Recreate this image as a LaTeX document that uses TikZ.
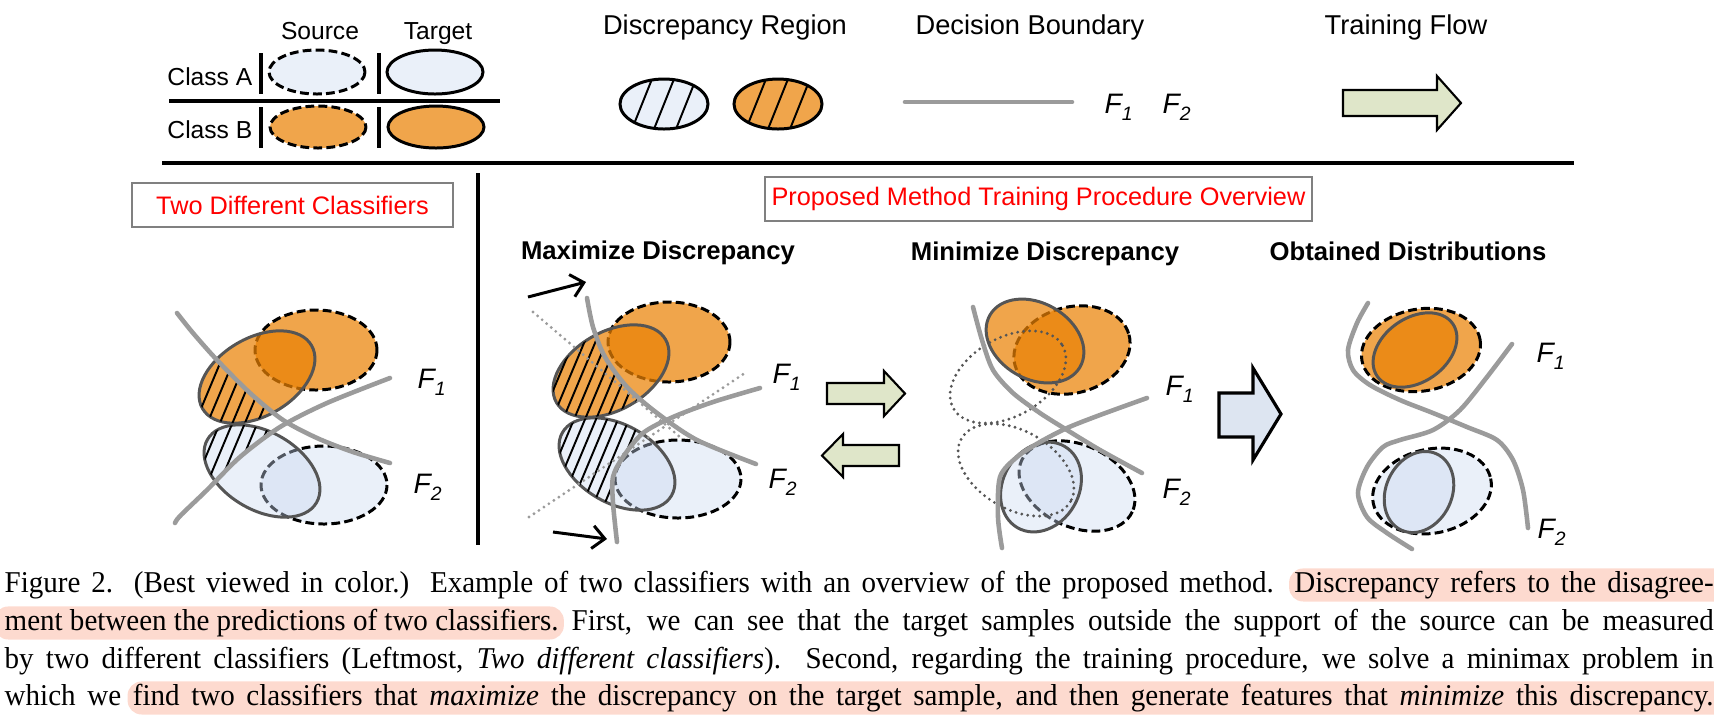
\documentclass[tikz,border=0pt]{standalone}
\usepackage{fontspec}
\setmainfont{Liberation Sans}
\newfontfamily\capfont[FakeStretch=0.96]{Liberation Serif}
\usetikzlibrary{arrows.meta}

\definecolor{orlight}{RGB}{240,165,75}
\definecolor{orsolid}{RGB}{234,130,5}
\definecolor{bllight}{RGB}{234,240,249}
\definecolor{blsolid}{RGB}{202,217,240}
\definecolor{bndgray}{RGB}{155,155,155}
\definecolor{rimgray}{RGB}{85,85,85}
\definecolor{flowgreen}{RGB}{223,230,201}
\definecolor{flowblue}{RGB}{221,229,241}
\definecolor{hilite}{RGB}{253,218,207}

\tikzset{
  srcell/.style={draw=black, line width=0.85pt, dash pattern=on 2.5pt off 1.2pt},
  tgtell/.style={draw=rimgray, line width=0.85pt},
  orsrc/.style={srcell, fill=orlight},
  blsrc/.style={srcell, fill=bllight},
  ortgt/.style={tgtell, fill=orsolid, fill opacity=0.72},
  bltgt/.style={tgtell, fill=blsolid, fill opacity=0.4},
  bound/.style={draw=bndgray, line width=1.3pt, line cap=round},
  olddots/.style={line width=0.9pt, line cap=round, dash pattern=on 0pt off 1.7pt},
  hatch/.style={draw=black, line width=0.55pt},
  legtext/.style={inner sep=0pt, anchor=base, font=\fontsize{7}{8}\selectfont},
  toptext/.style={inner sep=0pt, anchor=base, font=\fontsize{7.75}{9}\selectfont},
  paneltitle/.style={inner sep=0pt, anchor=base, font=\fontsize{7.3}{9}\selectfont\bfseries},
  redbox/.style={draw=gray, line width=0.45pt, text=red, inner sep=0pt,
    minimum height=0.44cm, font=\fontsize{7.2}{8.5}\selectfont},
  flab/.style={inner sep=0pt, anchor=base west, font=\fontsize{8}{9}\selectfont\itshape},
  blockarrow/.style={draw=black, line width=0.6pt, line join=miter},
  nudge/.style={draw=black, line width=0.85pt, -{Straight Barb[length=3.5pt, width=6.5pt]}},
  capline/.style={inner sep=0pt, anchor=base west, font=\capfont\fontsize{8.6}{10.5}\selectfont},
}
\newcommand{\Fsub}[1]{F\raisebox{-2pt}{\fontsize{5.5}{6}\selectfont #1}}
% highlight from here to the end of the line
\newcommand{\hlfrom}{\tikz[overlay]\fill[hilite, rounded corners=4pt] (-1.5pt,-2.7pt) rectangle (20cm,6.7pt);}
% highlight a piece that starts the line
\newsavebox{\hlsave}
\newlength{\hlwidth}
\newcommand{\hlhead}[1]{\sbox{\hlsave}{#1}\setlength{\hlwidth}{\wd\hlsave}%
  \tikz[overlay]\fill[hilite, rounded corners=4pt] (-3pt,-2.7pt) rectangle (\hlwidth+1.5pt,6.7pt);\usebox{\hlsave}}

\begin{document}
\begin{tikzpicture}[x=0.01cm, y=-0.01cm]
\useasboundingbox (0,0) rectangle (1714,714);

% legend
\node[legtext] (srcL) at (320,39) {Source};
\node[legtext] (tgtL) at (438,39) {Target};
\node[legtext, anchor=base east] (clA) at (253,85) {Class A};
\node[legtext, anchor=base east] (clB) at (253,138) {Class B};
\filldraw[blsrc] (317,72) ellipse (48 and 22);
\filldraw[bltgt, draw=black] (435,72) ellipse (48 and 22);
\filldraw[orsrc] (318,127) ellipse (48 and 21);
\filldraw[ortgt, draw=black] (436,127) ellipse (48 and 21);
\draw[line width=1.1pt] (261,53) -- (261,94) (379,53) -- (379,94) (261,107) -- (261,148) (379,107) -- (379,148);
\draw[line width=1pt] (169,101) -- (500,101);

\node[toptext] (discL) at (725,34) {Discrepancy Region};
\fill[bllight] (664,104) ellipse (44 and 25);
\fill[orlight] (778,104) ellipse (44 and 25);
\begin{scope}
  \clip (664,104) ellipse (44 and 25);
  \foreach \c in {642,664,686} \draw[hatch] (\c-16,144) -- (\c+16,64);
\end{scope}
\begin{scope}
  \clip (778,104) ellipse (44 and 25);
  \foreach \c in {756,778,800} \draw[hatch] (\c-16,144) -- (\c+16,64);
\end{scope}
\draw[line width=0.85pt] (664,104) ellipse (44 and 25) (778,104) ellipse (44 and 25);

\node[toptext] (decL) at (1030,34) {Decision Boundary};
\draw[bound] (905,102) -- (1072,102);
\node[flab] (legF1) at (1104,113) {\Fsub{1}};
\node[flab] (legF2) at (1162,113) {\Fsub{2}};

\node[toptext] (flowL) at (1406,34) {Training Flow};
\filldraw[blockarrow, fill=flowgreen] (1343,90) -- (1437,90) -- (1437,76) -- (1461,103) -- (1437,130) -- (1437,116) -- (1343,116) -- cycle;

\draw[line width=1.1pt] (162,163) -- (1574,163);
\draw[line width=1pt] (478,173) -- (478,545);

\node[redbox, minimum width=3.21cm] (twoBox) at (292.5,205) {Two Different Classifiers};
\node[redbox, minimum width=5.47cm] (propBox) at (1038.5,199) {Proposed Method Training Procedure Overview};
\node[paneltitle] (maxT) at (658,259) {Maximize Discrepancy};
\node[paneltitle] (minT) at (1045,260) {Minimize Discrepancy};
\node[paneltitle] (objT) at (1408,260) {Obtained Distributions};

% two classifiers
\def\FoneA{plot[smooth] coordinates {(177,313) (193,333) (217,360) (250,393) (283,420) (317,438) (353,452) (390,463)}}
\def\FtwoA{plot[smooth] coordinates {(175,523) (180,516) (207,490) (240,457) (280,427) (327,403) (390,378)}}
\filldraw[orsrc] (316,350) ellipse (61 and 40);
\filldraw[blsrc] (324,485) ellipse (63 and 39);
\filldraw[ortgt, shift={(257,377)}, rotate=30] (0,0) ellipse (63 and 39);
\filldraw[bltgt, shift={(262,471)}, rotate=-30] (0,0) ellipse (63 and 39);
\begin{scope}
  \clip \FoneA -- (390,600) -- (100,600) -- (100,313) -- cycle;
  \clip \FtwoA -- (390,250) -- (100,250) -- (100,523) -- cycle;
  \begin{scope}
    \clip[shift={(257,377)}, rotate=30] (0,0) ellipse (63 and 39);
    \foreach \k in {0,...,16} \draw[hatch] (100+12.5*\k,560) -- ++(130,-310);
  \end{scope}
  \begin{scope}
    \clip[shift={(262,471)}, rotate=-30] (0,0) ellipse (63 and 39);
    \foreach \k in {0,...,16} \draw[hatch] (100+12.5*\k,560) -- ++(130,-310);
  \end{scope}
\end{scope}
\draw[bound] \FoneA;
\draw[bound] \FtwoA;
\node[flab] (F1a) at (417,388) {\Fsub{1}};
\node[flab] (F2a) at (413,493) {\Fsub{2}};

% maximize
\def\FoneB{plot[smooth] coordinates {(587,298) (593,327) (605,357) (627,387) (657,413) (697,440) (756,464)}}
\def\FtwoB{plot[smooth] coordinates {(617,542) (613,503) (613,477) (623,457) (643,433) (673,417) (713,402) (760,388)}}
\filldraw[orsrc] (669,342) ellipse (61 and 40);
\filldraw[blsrc] (678,479) ellipse (63 and 39);
\filldraw[ortgt, shift={(611,371)}, rotate=30] (0,0) ellipse (63 and 39);
\filldraw[bltgt, shift={(617,464)}, rotate=-30] (0,0) ellipse (63 and 39);
\begin{scope}
  \clip \FoneB -- (756,600) -- (450,600) -- (450,298) -- cycle;
  \clip \FtwoB -- (760,250) -- (450,250) -- (450,542) -- cycle;
  \begin{scope}
    \clip[shift={(611,371)}, rotate=30] (0,0) ellipse (63 and 39);
    \foreach \k in {0,...,20} \draw[hatch] (460+11*\k,560) -- ++(130,-310);
  \end{scope}
  \begin{scope}
    \clip[shift={(617,464)}, rotate=-30] (0,0) ellipse (63 and 39);
    \foreach \k in {0,...,20} \draw[hatch] (460+11*\k,560) -- ++(130,-310);
  \end{scope}
\end{scope}
\draw[olddots, draw=bndgray] (533,312) -- (680,437);
\draw[olddots, draw=bndgray] (529,517) -- (745,373);
\draw[bound] \FoneB;
\draw[bound] \FtwoB;
\coordinate (pushA) at (528,297);
\coordinate (pushB) at (586,282);
\coordinate (pushC) at (553,532);
\coordinate (pushD) at (607,539);
\draw[nudge] (pushA) -- (pushB);
\draw[nudge] (pushC) -- (pushD);
\node[flab] (F1b) at (772,383) {\Fsub{1}};
\node[flab] (F2b) at (768,488) {\Fsub{2}};

\filldraw[blockarrow, fill=flowgreen] (827,383) -- (884,383) -- (884,371) -- (905,393.5) -- (884,416) -- (884,404) -- (827,404) -- cycle;
\filldraw[blockarrow, fill=flowgreen] (899,445) -- (843,445) -- (843,434) -- (822,455.5) -- (843,477) -- (843,466) -- (899,466) -- cycle;

% minimize
\def\FoneC{plot[smooth] coordinates {(973,307) (982,340) (993,370) (1013,393) (1040,413) (1067,430) (1100,450) (1142,473)}}
\def\FtwoC{plot[smooth] coordinates {(1002,548) (998,517) (1000,477) (1017,457) (1040,442) (1067,428) (1100,415) (1147,398)}}
\filldraw[orsrc, shift={(1072,350)}, rotate=15] (0,0) ellipse (59 and 43);
\filldraw[blsrc, shift={(1077,486)}, rotate=-25] (0,0) ellipse (61 and 41);
\filldraw[ortgt, shift={(1035,341)}, rotate=-30] (0,0) ellipse (52 and 38);
\filldraw[bltgt, shift={(1041,487)}, rotate=60] (0,0) ellipse (47 and 38);
\draw[olddots, draw=rimgray, shift={(1008,377)}, rotate=30] (0,0) ellipse (63 and 39);
\draw[olddots, draw=rimgray, shift={(1016,470)}, rotate=-30] (0,0) ellipse (63 and 39);
\draw[bound] \FoneC;
\draw[bound] \FtwoC;
\node[flab] (F1c) at (1165,395) {\Fsub{1}};
\node[flab] (F2c) at (1162,498) {\Fsub{2}};

\filldraw[blockarrow, line width=0.9pt, fill=flowblue] (1219,393) -- (1253,393) -- (1253,368) -- (1281,414) -- (1253,460) -- (1253,437) -- (1219,437) -- cycle;

% obtained
\def\FoneD{plot[smooth] coordinates {(1368,303) (1357,323) (1348,350) (1353,370) (1370,385) (1400,400) (1433,413) (1467,427) (1497,440) (1513,460) (1523,490) (1528,528)}}
\def\FtwoD{plot[smooth] coordinates {(1512,344) (1487,377) (1460,410) (1433,430) (1400,440) (1383,447) (1367,467) (1358,493) (1367,517) (1387,533) (1412,549)}}
\filldraw[orsrc, shift={(1421,350)}, rotate=10] (0,0) ellipse (60 and 41);
\filldraw[blsrc, shift={(1432,491)}, rotate=12] (0,0) ellipse (60 and 42);
\filldraw[ortgt, shift={(1415,350)}, rotate=35] (0,0) ellipse (46 and 32);
\filldraw[bltgt, shift={(1419,492)}, rotate=65] (0,0) ellipse (42 and 33);
\draw[bound] \FoneD;
\draw[bound] \FtwoD;
\node[flab] (F1d) at (1536,362) {\Fsub{1}};
\node[flab] (F2d) at (1537,538) {\Fsub{2}};

% caption
\node[capline] (cap1) at (4,592) {\makebox[17.08cm][s]{Figure 2. (Best viewed in color.) Example of two classifiers with an overview of the proposed method. \hlfrom Discrepancy refers to the disagree-}};
\node[capline] (cap2) at (4,630) {\makebox[17.08cm][s]{\hlhead{ment between the predictions of two classifiers.} First, we can see that the target samples outside the support of the source can be measured}};
\node[capline] (cap3) at (4,668) {\makebox[17.08cm][s]{by two different classifiers (Leftmost, \textit{Two different classifiers}). Second, regarding the training procedure, we solve a minimax problem in}};
\node[capline] (cap4) at (4,705) {\makebox[17.08cm][s]{which we \hlfrom find two classifiers that \textit{maximize} the discrepancy on the target sample, and then generate features that \textit{minimize} this discrepancy.}};
\end{tikzpicture}
\end{document}
